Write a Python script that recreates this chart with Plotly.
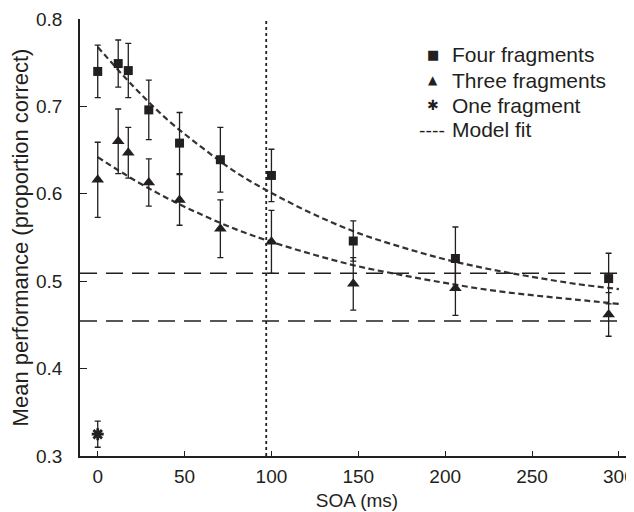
import plotly.graph_objects as go

# ---- data ----
soa = [0, 11.8, 17.6, 29.4, 47.1, 70.6, 100, 147.1, 205.9, 294.1]
four_mean = [0.740, 0.749, 0.741, 0.696, 0.658, 0.639, 0.621, 0.546, 0.526, 0.503]
four_err = [0.030, 0.027, 0.031, 0.034, 0.035, 0.037, 0.030, 0.023, 0.036, 0.029]
three_mean = [0.616, 0.660, 0.647, 0.613, 0.593, 0.560, 0.545, 0.497, 0.492, 0.462]
three_err = [0.043, 0.037, 0.029, 0.027, 0.029, 0.033, 0.036, 0.030, 0.031, 0.025]
one_soa = [0]
one_mean = [0.325]
one_err = [0.015]

fit_soa = [0, 20, 40, 60, 80, 100, 125, 150, 175, 200, 225, 250, 275, 300]
fit_four = [0.768, 0.724, 0.685, 0.653, 0.624, 0.601, 0.576, 0.555, 0.539, 0.525, 0.514, 0.505, 0.497, 0.491]
fit_three = [0.642, 0.617, 0.595, 0.576, 0.559, 0.545, 0.530, 0.517, 0.507, 0.498, 0.490, 0.484, 0.479, 0.474]

chance_levels = [0.509, 0.4545]
marker_soa = 97

x_ticks = [0, 50, 100, 150, 200, 250, 300]
y_ticks = [0.3, 0.4, 0.5, 0.6, 0.7, 0.8]

legend_labels = ["Four fragments", "Three fragments", "One fragment", "Model fit"]
legend_glyphs = ["\u25A0", "\u25B2", "\u2731", "----"]

INK = "#231f20"
FONT = "Liberation Sans, Arial, sans-serif"

fig = go.Figure()

fit_line = dict(color="#333", width=2.2, dash="6px,3.5px")
fig.add_trace(go.Scatter(x=fit_soa, y=fit_four, mode="lines", line=fit_line,
                         line_shape="spline", showlegend=False, hoverinfo="skip"))
fig.add_trace(go.Scatter(x=fit_soa, y=fit_three, mode="lines", line=fit_line,
                         line_shape="spline", showlegend=False, hoverinfo="skip"))

err_style = dict(type="data", color=INK, thickness=1.3, width=3)
fig.add_trace(go.Scatter(x=soa, y=four_mean, mode="markers", name=legend_labels[0],
                         marker=dict(symbol="square", size=9, color=INK),
                         error_y=dict(array=four_err, **err_style), showlegend=False))
fig.add_trace(go.Scatter(x=soa, y=three_mean, mode="markers", name=legend_labels[1],
                         marker=dict(symbol="triangle-up", size=11, color=INK),
                         error_y=dict(array=three_err, **err_style), showlegend=False))
fig.add_trace(go.Scatter(x=one_soa, y=one_mean, mode="markers", name=legend_labels[2],
                         marker=dict(symbol="asterisk", size=10, color=INK, line=dict(color=INK, width=2.8)),
                         error_y=dict(array=one_err, **err_style), showlegend=False))

shapes = []
for lv in chance_levels:
    shapes.append(dict(type="line", xref="paper", x0=0, x1=1, yref="y", y0=lv, y1=lv,
                       line=dict(color=INK, width=1.5, dash="17px,9px"), layer="below"))
shapes.append(dict(type="line", xref="x", x0=marker_soa, x1=marker_soa, yref="paper", y0=0, y1=1,
                   line=dict(color=INK, width=1.8, dash="dot"), layer="below"))

# legend built from text (screen-pixel helpers; page has an 8px body margin)
L, R, T, B = 80, 634, 19, 456
def px(x):
    return (x - L) / (R - L)
def py(y):
    return (B - y) / (B - T)

annotations = []
rows_y = [55, 80, 105, 130]
glyph_size = [13, 12, 14, 18]
for lab, g, yy, gs in zip(legend_labels, legend_glyphs, rows_y, glyph_size):
    annotations.append(dict(text=lab, xref="paper", yref="paper", x=px(450), y=py(yy), xanchor="left",
                            yanchor="middle", showarrow=False,
                            font=dict(family=FONT, size=21, color=INK)))
    annotations.append(dict(text=g, xref="paper", yref="paper", x=px(447 if g == "----" else 433), y=py(yy),
                            xanchor="right" if g == "----" else "center", yanchor="middle", showarrow=False,
                            font=dict(family="DejaVu Sans, sans-serif", size=gs, color=INK)))

fig.update_layout(
    width=626, height=504,
    margin=dict(l=72, r=0, t=11, b=56),
    paper_bgcolor="white", plot_bgcolor="white",
    font=dict(family=FONT, size=19, color=INK),
    shapes=shapes, annotations=annotations,
    showlegend=False,
)
fig.update_xaxes(range=[-10.2, 308.7], tickvals=x_ticks, ticks="inside", ticklen=5, tickwidth=1.3,
                 tickcolor=INK, showline=True, linecolor=INK, linewidth=1.5, showgrid=False, zeroline=False,
                 ticklabelstandoff=2, ticklabeloverflow="allow",
                 title=dict(text="SOA (ms)", font=dict(size=19), standoff=8))
fig.update_yaxes(range=[0.3, 0.8], tickvals=y_ticks, tickformat=".1f", ticks="inside", ticklen=7, tickwidth=1.3,
                 tickcolor=INK, showline=True, linecolor=INK, linewidth=1.5, showgrid=False, zeroline=False,
                 ticklabelstandoff=12,
                 title=dict(text="Mean performance (proportion correct)", font=dict(size=22), standoff=7))

fig.write_html("out.html")
